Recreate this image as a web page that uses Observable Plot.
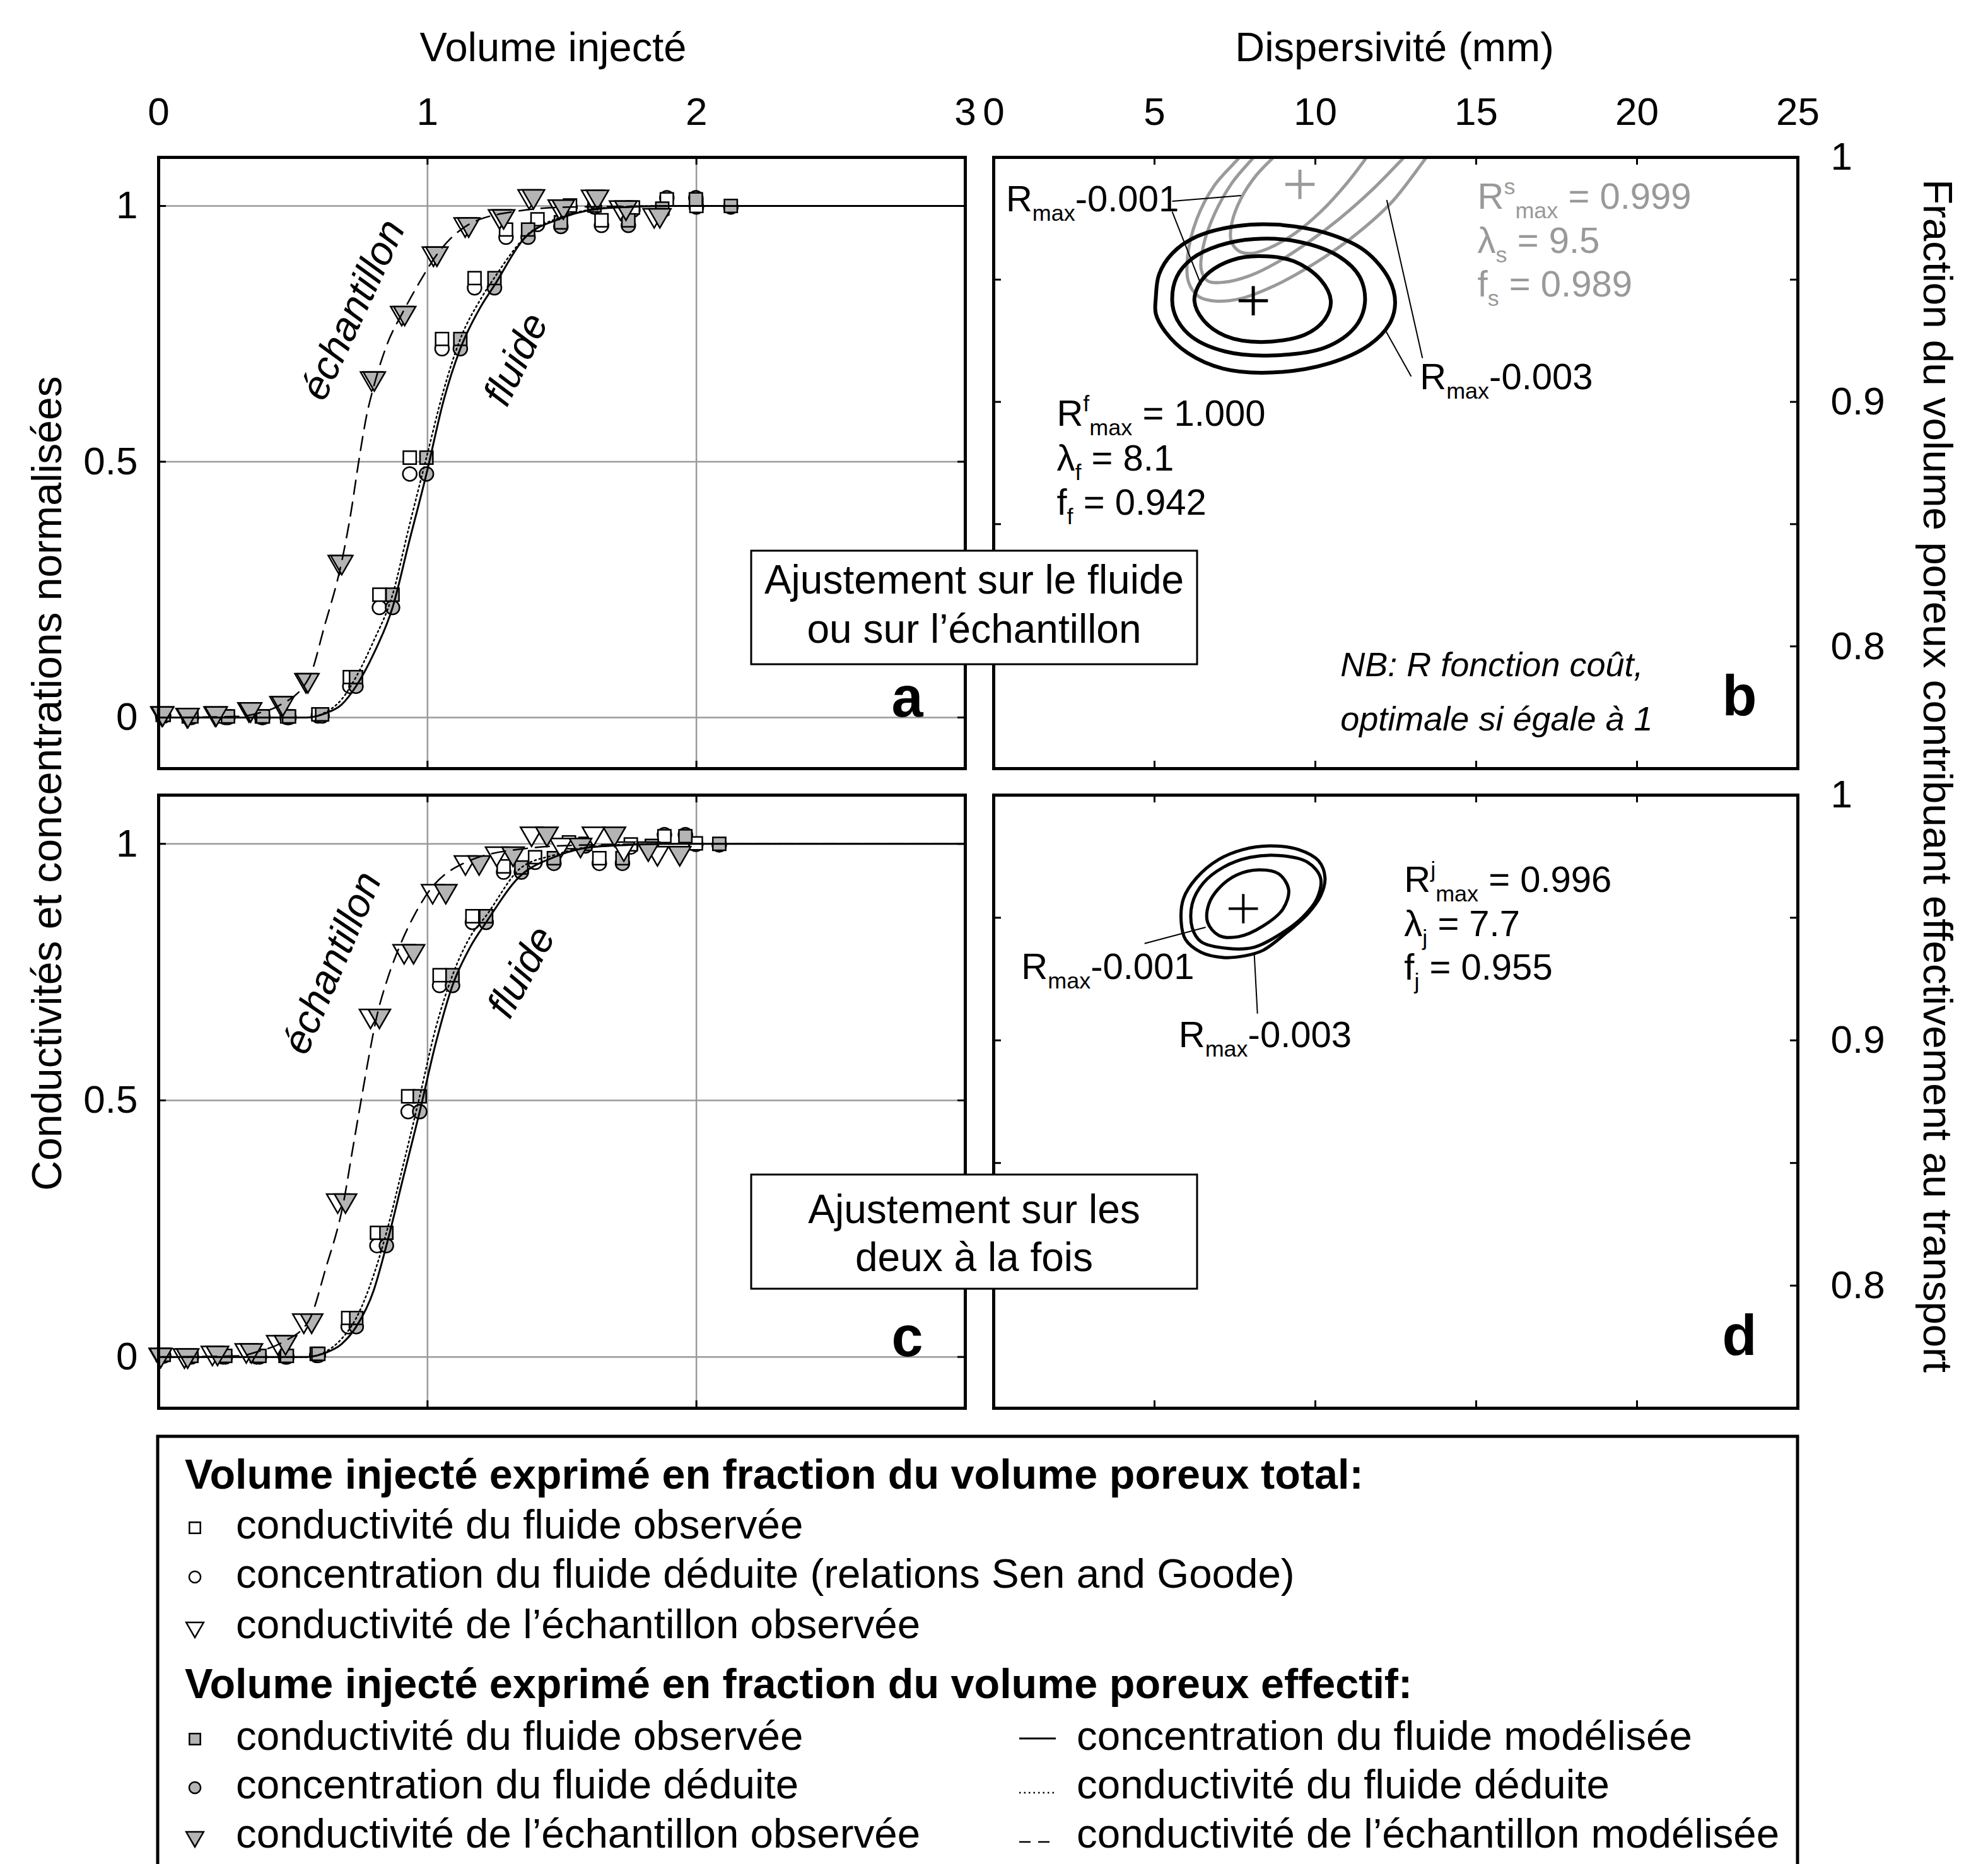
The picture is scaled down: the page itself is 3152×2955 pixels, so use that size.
<!DOCTYPE html>
<html lang="fr">
<head>
<meta charset="utf-8">
<title>Courbes de restitution et dispersivité</title>
<script src="https://cdn.jsdelivr.net/npm/d3@7"></script>
<script src="https://cdn.jsdelivr.net/npm/@observablehq/plot@0.6"></script>
<style>
  html, body { margin: 0; padding: 0; background: #fff; }
  #page { position: relative; width: 3152px; height: 2955px; overflow: hidden; background: #fff; }
</style>
</head>
<body>
<div id="page"></div>
<script>
// ===================== DATA =====================
// ---- Panel a (ajustement séparé) : volume injecté (fraction du volume poreux)
// total (symboles blancs)
const aSqTotX = [0.015,0.112,0.248,0.384,0.478,0.594,0.711,0.821,0.934,1.054,1.175,1.292,1.409,1.530,1.647,1.764,1.890,2.000];
const aSqTotY = [0.005,0.002,0.002,0.002,0.002,0.006,0.079,0.240,0.508,0.740,0.859,0.954,0.974,1.001,0.972,0.997,1.013,1.000];
const aCiTotY = [0.003,0.000,0.000,0.000,0.000,0.003,0.061,0.215,0.476,0.721,0.840,0.939,0.964,0.998,0.962,0.992,1.016,0.998];
const aTriTotX = [0.012,0.106,0.210,0.336,0.455,0.548,0.672,0.792,0.904,1.022,1.140,1.268,1.378,1.490,1.614,1.718,1.843];
// effectif (symboles gris)
const aSqEffX = [0.019,0.122,0.258,0.388,0.485,0.608,0.734,0.870,0.996,1.122,1.249,1.374,1.496,1.621,1.747,1.873,1.998,2.128];
const aSqEffY = [0.005,0.002,0.002,0.002,0.002,0.006,0.079,0.240,0.508,0.740,0.859,0.954,0.968,1.001,0.972,0.995,1.013,1.000];
const aCiEffY = [0.003,0.000,0.000,0.000,0.000,0.003,0.061,0.215,0.476,0.721,0.840,0.939,0.960,0.998,0.962,0.990,1.016,0.998];
const aTriEffX = [0.015,0.109,0.214,0.342,0.462,0.555,0.681,0.802,0.915,1.035,1.153,1.283,1.394,1.505,1.632,1.738,1.864];
const aTriY    = [0.008,0.005,0.008,0.016,0.028,0.073,0.304,0.663,0.791,0.907,0.964,0.980,1.019,0.999,1.018,0.997,0.982];
// courbes modélisées
const aSolidX = [0,0.55,0.62,0.68,0.734,0.80,0.870,0.93,0.996,1.06,1.122,1.20,1.249,1.357,1.487,1.617,1.747,1.9,3.0];
const aSolidY = [0,0,0.008,0.025,0.061,0.125,0.215,0.34,0.476,0.62,0.721,0.805,0.845,0.935,0.974,0.993,0.998,1.0,1.0];
const aDotX   = [0,0.55,0.62,0.68,0.734,0.80,0.870,0.93,0.996,1.06,1.122,1.20,1.249,1.374,1.496,1.62,1.75,1.9,3.0];
const aDotY   = [0,0,0.01,0.035,0.079,0.15,0.24,0.37,0.508,0.64,0.740,0.82,0.86,0.945,0.978,0.994,0.999,1.0,1.0];
const aDashX  = [0,0.30,0.366,0.443,0.559,0.617,0.681,0.715,0.744,0.773,0.802,0.850,0.909,0.967,1.035,1.161,1.336,1.530,2.0,3.0];
const aDashY  = [0,0.002,0.008,0.022,0.077,0.179,0.305,0.40,0.5,0.589,0.651,0.730,0.793,0.848,0.905,0.966,0.990,0.998,1.0,1.0];
const aLabelText = ["échantillon", "fluide"];
const aLabelX = [0.724, 1.330];
const aLabelY = [0.797, 0.700];
const aLabelRot = [-65, -64];

// ---- Panel c (ajustement conjoint)
const cSqTotX = [0.015,0.112,0.239,0.365,0.472,0.588,0.705,0.812,0.928,1.045,1.167,1.283,1.400,1.526,1.639,1.756,1.881,1.998];
const cSqTotY = [0.004,0.002,0.002,0.002,0.002,0.006,0.076,0.242,0.508,0.744,0.859,0.956,0.974,1.003,0.972,0.999,1.015,1.001];
const cCiTotY = [0.002,0.000,0.000,0.000,0.000,0.003,0.059,0.217,0.478,0.724,0.847,0.945,0.964,0.998,0.962,0.994,1.018,0.999];
const cTriTotX = [0.006,0.096,0.200,0.326,0.443,0.540,0.666,0.788,0.913,1.019,1.141,1.257,1.387,1.496,1.617,1.730,1.855];
const cSqEffX = [0.019,0.122,0.248,0.375,0.477,0.594,0.735,0.847,0.971,1.093,1.218,1.349,1.470,1.587,1.725,1.834,1.959,2.085];
const cSqEffY = [0.004,0.002,0.002,0.002,0.002,0.006,0.076,0.242,0.508,0.744,0.859,0.954,0.972,1.000,0.972,0.996,1.015,1.000];
const cCiEffY = [0.002,0.000,0.000,0.000,0.000,0.003,0.059,0.217,0.478,0.724,0.847,0.945,0.962,0.996,0.962,0.990,1.018,0.998];
const cTriEffX = [0.008,0.108,0.219,0.345,0.472,0.569,0.695,0.821,0.948,1.068,1.192,1.318,1.444,1.569,1.695,1.821,1.938];
const cTriY    = [0.004,0.003,0.008,0.013,0.029,0.071,0.305,0.665,0.791,0.908,0.964,0.981,1.020,0.998,1.020,0.991,0.982];
const cSolidX = [0,0.55,0.62,0.68,0.735,0.80,0.847,0.91,0.971,1.03,1.093,1.16,1.218,1.34,1.47,1.6,1.75,1.9,3.0];
const cSolidY = [0,0,0.008,0.025,0.059,0.13,0.217,0.35,0.478,0.61,0.724,0.80,0.847,0.935,0.974,0.993,0.998,1.0,1.0];
const cDotX   = [0,0.55,0.62,0.68,0.735,0.80,0.847,0.91,0.971,1.03,1.093,1.16,1.218,1.349,1.47,1.6,1.75,1.9,3.0];
const cDotY   = [0,0,0.01,0.035,0.076,0.16,0.242,0.375,0.508,0.64,0.744,0.82,0.86,0.954,0.978,0.994,0.999,1.0,1.0];
const cDashX  = [0,0.30,0.366,0.462,0.559,0.62,0.689,0.72,0.753,0.78,0.812,0.85,0.889,0.95,1.006,1.142,1.35,1.6,2.0,3.0];
const cDashY  = [0,0.002,0.01,0.029,0.071,0.17,0.305,0.40,0.5,0.58,0.665,0.735,0.791,0.86,0.908,0.964,0.99,0.998,1.0,1.0];
const cLabelText = ["échantillon", "fluide"];
const cLabelX = [0.646, 1.350];
const cLabelY = [0.768, 0.750];
const cLabelRot = [-67, -61];

// ---- Panel b : contours de R (dispersivité en mm, fraction f)
const bFluidInnerL = [6.24,6.38,6.72,7.41,8.24,9.34,10.16,10.48,10.30,9.68,8.31,7.20,6.52];
const bFluidInnerF = [0.9414,0.9479,0.9532,0.9580,0.9596,0.9575,0.9500,0.9414,0.9339,0.9275,0.9245,0.9270,0.9334];
const bFluidMidL = [5.55,5.69,6.17,7.00,8.10,9.48,10.72,11.38,11.54,11.24,10.30,8.65,7.20,6.17,5.69];
const bFluidMidF = [0.9414,0.9511,0.9586,0.9639,0.9666,0.9655,0.9596,0.9511,0.9404,0.9307,0.9222,0.9190,0.9206,0.9265,0.9340];
const bFluidOutL = [5.04,5.14,5.55,6.31,7.55,8.79,10.30,11.54,12.30,12.48,12.30,11.68,10.44,8.65,7.13,6.03,5.34,5.04];
const bFluidOutF = [0.9425,0.9521,0.9607,0.9676,0.9719,0.9725,0.9692,0.9618,0.9500,0.9404,0.9318,0.9233,0.9158,0.9120,0.9136,0.9200,0.9286,0.9361];
const bSampInnerL = [9.20,8.72,8.17,7.69,7.41,7.38,7.62,7.96,8.51,9.34,10.17,10.99,11.61,11.95];
const bSampInnerF = [1.0067,1.0003,0.9928,0.9832,0.9735,0.9660,0.9617,0.9607,0.9626,0.9687,0.9778,0.9896,1.0003,1.0067];
const bSampMidL = [8.51,8.10,7.41,6.86,6.52,6.45,6.65,7.13,7.96,8.79,9.75,10.72,11.82,12.78,13.26];
const bSampMidF = [1.0067,1.0003,0.9896,0.9767,0.9639,0.9543,0.9495,0.9489,0.9516,0.9569,0.9650,0.9746,0.9874,1.0003,1.0067];
const bSampOutL = [8.03,7.66,6.86,6.31,6.03,6.06,6.38,6.93,7.69,8.79,9.89,11.13,12.37,13.47,13.88];
const bSampOutF = [1.0067,1.0003,0.9885,0.9746,0.9596,0.9489,0.9430,0.9412,0.9423,0.9479,0.9559,0.9671,0.9816,1.0003,1.0072];
const bBestL = [8.07, 9.52];   // fluide, échantillon
const bBestF = [0.9414, 0.989];
const bLeadX1 = [5.55, 5.55, 12.98, 13.33];
const bLeadY1 = [0.9821, 0.9778, 0.9104, 0.9179];
const bLeadX2 = [7.69, 6.45, 12.16, 12.22];
const bLeadY2 = [0.9844, 0.9478, 0.9297, 0.9826];

// ---- Panel d : contours de R (ajustement conjoint)
const dInnerL = [6.65,6.69,7.00,7.55,8.24,8.86,9.17,8.99,8.37,7.62,7.00];
const dInnerF = [0.9482,0.9556,0.9620,0.9674,0.9695,0.9679,0.9615,0.9535,0.9466,0.9423,0.9428];
const dMidL = [6.17,6.17,6.52,7.14,7.96,8.86,9.75,10.16,10.05,9.61,8.92,8.10,7.28,6.45];
const dMidF = [0.9460,0.9556,0.9642,0.9706,0.9746,0.9754,0.9727,0.9663,0.9578,0.9503,0.9434,0.9380,0.9375,0.9402];
const dOutL = [5.83,5.90,6.31,7.00,7.75,8.58,9.48,10.10,10.30,10.16,9.75,9.06,8.37,7.82,7.14,6.45,5.96];
const dOutF = [0.9482,0.9578,0.9663,0.9738,0.9778,0.9793,0.9778,0.9732,0.9663,0.9588,0.9514,0.9434,0.9367,0.9345,0.9338,0.9359,0.9412];
const dBestL = [7.76];
const dBestF = [0.9537];
const dLeadX1 = [4.69, 8.10];
const dLeadY1 = [0.9395, 0.9354];
const dLeadX2 = [6.59, 8.20];
const dLeadY2 = [0.9461, 0.9109];

// ---- Ticks
const xTicksCurve = [0, 1, 2, 3];
const yTicksCurve = [0, 0.5, 1];
const xTicksDisp = [0, 5, 10, 15, 20, 25];
const xTickMarksDisp = [5, 10, 15, 20];
const yTicksFrac = [0.8, 0.9, 1];
const yTickMarksFrac = [0.8, 0.85, 0.9, 0.95];

// ===================== STYLE / HELPERS =====================
const FONT = '"Liberation Sans", Arial, Helvetica, sans-serif';
const GFILL = "#b4b4b4";
const GLINE = "#9a9a9a";
const fmt = d => String(d);
const page = document.getElementById("page");

const pts = (X, Y) => X.map((x, i) => ({x, y: Y[i]}));

const triDown = {
  draw(ctx, size) {
    const s = Math.sqrt(size * 4 / Math.sqrt(3));
    const h = s * Math.sqrt(3) / 2;
    ctx.moveTo(-s / 2, -h / 3);
    ctx.lineTo(s / 2, -h / 3);
    ctx.lineTo(0, 2 * h / 3);
    ctx.closePath();
  }
};

function place(el, left, top) {
  el.style.position = "absolute";
  el.style.left = left + "px";
  el.style.top = top + "px";
  el.style.maxWidth = "none";
  el.style.background = "transparent";
  el.style.overflow = "visible";
  page.appendChild(el);
  return el;
}

function rich(sel, x, y, parts, {size = 58, fill = "#000", style = "normal", anchor = "start"} = {}) {
  const t = sel.append("text").attr("x", x).attr("y", y)
    .attr("font-family", FONT).attr("font-size", size).attr("fill", fill)
    .attr("font-style", style).attr("text-anchor", anchor);
  let cur = 0;
  for (const [txt, kind] of parts) {
    const target = kind === "sub" ? 0.26 * size : kind === "sup" ? -0.40 * size : 0;
    t.append("tspan").attr("dy", target - cur).attr("font-size", kind ? size * 0.62 : size).text(txt);
    cur = target;
  }
  return t;
}

function frameTicks(xs, ys, fw, fh, len) {
  return [
    Plot.tickX(xs, {x: d => d, insetBottom: fh - len, stroke: "black", strokeWidth: 3}),
    Plot.tickX(xs, {x: d => d, insetTop: fh - len, stroke: "black", strokeWidth: 3}),
    Plot.tickY(ys, {y: d => d, insetRight: fw - len, stroke: "black", strokeWidth: 3}),
    Plot.tickY(ys, {y: d => d, insetLeft: fw - len, stroke: "black", strokeWidth: 3})
  ];
}

// ===================== CURVE PANELS (a, c) =====================
function curvePanel(o) {
  const W = 1545, mL = 251, mR = 15;
  const fw = W - mL - mR, fh = o.height - o.mTop - o.mBottom;
  const labels = o.labelText.map((t, i) => ({t, x: o.labelX[i], y: o.labelY[i], r: o.labelRot[i]}));
  const marks = [
    Plot.gridX([1, 2], {stroke: GLINE, strokeOpacity: 1, strokeWidth: 2.5}),
    Plot.gridY(yTicksCurve, {stroke: GLINE, strokeOpacity: 1, strokeWidth: 2.5}),
    ...frameTicks([1, 2], yTicksCurve, fw, fh, 12),
    Plot.axisY({anchor: "left", ticks: yTicksCurve, tickSize: 0, tickPadding: 33, label: null, tickFormat: fmt}),
    Plot.dot(pts(o.sqTotX, o.ciTotY), {x: "x", y: "y", symbol: "circle", r: 11, fill: "white", stroke: "black", strokeWidth: 2.5}),
    Plot.dot(pts(o.sqEffX, o.ciEffY), {x: "x", y: "y", symbol: "circle", r: 11, fill: GFILL, stroke: "black", strokeWidth: 2.5}),
    Plot.dot(pts(o.sqTotX, o.sqTotY), {x: "x", y: "y", symbol: "square", r: 11.5, fill: "white", stroke: "black", strokeWidth: 2.5}),
    Plot.dot(pts(o.sqEffX, o.sqEffY), {x: "x", y: "y", symbol: "square", r: 11.5, fill: GFILL, stroke: "black", strokeWidth: 2.5}),
    Plot.dot(pts(o.triTotX, o.triY), {x: "x", y: "y", symbol: triDown, r: 13, fill: "white", stroke: "black", strokeWidth: 2.5}),
    Plot.dot(pts(o.triEffX, o.triY), {x: "x", y: "y", symbol: triDown, r: 13, fill: GFILL, stroke: "black", strokeWidth: 2.5}),
    Plot.line(pts(o.dashX, o.dashY), {x: "x", y: "y", curve: "monotone-x", stroke: "black", strokeWidth: 2.5, strokeDasharray: "22,13"}),
    Plot.line(pts(o.dotX, o.dotY), {x: "x", y: "y", curve: "monotone-x", stroke: "black", strokeWidth: 2.5, strokeDasharray: "2.5,5"}),
    Plot.line(pts(o.solidX, o.solidY), {x: "x", y: "y", curve: "monotone-x", stroke: "black", strokeWidth: 3}),
    Plot.text(labels, {x: "x", y: "y", text: "t", rotate: "r", fontStyle: "italic", fontSize: 64, fill: "black"}),
    Plot.text([o.letter], {frameAnchor: "bottom-right", dx: -67, dy: -83, textAnchor: "end", lineAnchor: "bottom", fontWeight: "bold", fontSize: 90, fill: "black"}),
    Plot.frame({stroke: "black", strokeWidth: 5})
  ];
  if (o.topAxis) marks.push(Plot.axisX({anchor: "top", ticks: xTicksCurve, tickSize: 0, tickPadding: 52, label: null, tickFormat: fmt}));
  return Plot.plot({
    width: W, height: o.height,
    marginLeft: mL, marginRight: mR, marginTop: o.mTop, marginBottom: o.mBottom,
    x: {domain: [0, 3], axis: o.topAxis ? undefined : null},
    y: {domain: [-0.1, 1.095]},
    style: {fontFamily: FONT, fontSize: "62px", color: "black", background: "transparent", overflow: "visible"},
    marks
  });
}

const plotA = curvePanel({
  height: 1235, mTop: 249, mBottom: 17, topAxis: true, letter: "a",
  sqTotX: aSqTotX, sqTotY: aSqTotY, ciTotY: aCiTotY, triTotX: aTriTotX,
  sqEffX: aSqEffX, sqEffY: aSqEffY, ciEffY: aCiEffY, triEffX: aTriEffX, triY: aTriY,
  solidX: aSolidX, solidY: aSolidY, dotX: aDotX, dotY: aDotY, dashX: aDashX, dashY: aDashY,
  labelText: aLabelText, labelX: aLabelX, labelY: aLabelY, labelRot: aLabelRot
});
place(plotA, 0, 0);

const plotC = curvePanel({
  height: 1002, mTop: 20, mBottom: 10, topAxis: false, letter: "c",
  sqTotX: cSqTotX, sqTotY: cSqTotY, ciTotY: cCiTotY, triTotX: cTriTotX,
  sqEffX: cSqEffX, sqEffY: cSqEffY, ciEffY: cCiEffY, triEffX: cTriEffX, triY: cTriY,
  solidX: cSolidX, solidY: cSolidY, dotX: cDotX, dotY: cDotY, dashX: cDashX, dashY: cDashY,
  labelText: cLabelText, labelX: cLabelX, labelY: cLabelY, labelRot: cLabelRot
});
place(plotC, 0, 1240);

// ===================== CONTOUR PANELS (b, d) =====================
function contourPanel(o) {
  const W = 1607, mL = 30, mR = 302;
  const fw = W - mL - mR, fh = o.height - o.mTop - o.mBottom;
  const marks = [
    ...frameTicks(xTickMarksDisp, yTickMarksFrac, fw, fh, 12),
    Plot.axisY({anchor: "right", ticks: yTicksFrac, tickSize: 0, tickPadding: 52, label: null, tickFormat: fmt}),
    ...o.marks,
    Plot.text([o.letter], {frameAnchor: "bottom-right", dx: -65, dy: -85, textAnchor: "end", lineAnchor: "bottom", fontWeight: "bold", fontSize: 90, fill: "black"}),
    Plot.frame({stroke: "black", strokeWidth: 5})
  ];
  if (o.topAxis) marks.push(Plot.axisX({anchor: "top", ticks: xTicksDisp, tickSize: 0, tickPadding: 52, label: null, tickFormat: fmt}));
  return Plot.plot({
    width: W, height: o.height,
    marginLeft: mL, marginRight: mR, marginTop: o.mTop, marginBottom: o.mBottom,
    x: {domain: [0, 25], axis: o.topAxis ? undefined : null},
    y: {domain: [0.75, 1.0]},
    style: {fontFamily: FONT, fontSize: "62px", color: "black", background: "transparent", overflow: "visible"},
    marks
  });
}

const contour = (L, F, stroke, sw, closed) =>
  Plot.line(pts(L, F), {x: "x", y: "y", curve: closed ? "catmull-rom-closed" : "catmull-rom", stroke, strokeWidth: sw, clip: true});
const leaders = (x1, y1, x2, y2) =>
  Plot.link(x1.map((v, i) => ({x1: v, y1: y1[i], x2: x2[i], y2: y2[i]})), {x1: "x1", y1: "y1", x2: "x2", y2: "y2", stroke: "black", strokeWidth: 2});

const plotB = contourPanel({
  height: 1235, mTop: 249, mBottom: 17, topAxis: true, letter: "b",
  marks: [
    contour(bSampInnerL, bSampInnerF, GLINE, 5, false),
    contour(bSampMidL, bSampMidF, GLINE, 5, false),
    contour(bSampOutL, bSampOutF, GLINE, 5, false),
    contour(bFluidInnerL, bFluidInnerF, "black", 6, true),
    contour(bFluidMidL, bFluidMidF, "black", 6, true),
    contour(bFluidOutL, bFluidOutF, "black", 6, true),
    Plot.dot(pts(bBestL, bBestF), {x: "x", y: "y", symbol: "plus", r: 15, fill: "none",
      stroke: (d, i) => i === 0 ? "black" : GLINE, strokeWidth: 5}),
    leaders(bLeadX1, bLeadY1, bLeadX2, bLeadY2)
  ]
});
place(plotB, 1545, 0);

const plotD = contourPanel({
  height: 1002, mTop: 20, mBottom: 10, topAxis: false, letter: "d",
  marks: [
    contour(dInnerL, dInnerF, "black", 5, true),
    contour(dMidL, dMidF, "black", 5, true),
    contour(dOutL, dOutF, "black", 5, true),
    Plot.dot(pts(dBestL, dBestF), {x: "x", y: "y", symbol: "plus", r: 15, fill: "none", stroke: "black", strokeWidth: 4}),
    leaders(dLeadX1, dLeadY1, dLeadX2, dLeadY2)
  ]
});
place(plotD, 1545, 1240);

// annotations b
{
  const s = d3.select(plotB), x = plotB.scale("x"), y = plotB.scale("y");
  const X = v => x.apply(v), Y = v => y.apply(v);
  rich(s, X(0.39), Y(0.9778), [["R"], ["max", "sub"], ["-0.001"]]);
  rich(s, X(13.26), Y(0.905), [["R"], ["max", "sub"], ["-0.003"]]);
  rich(s, X(15.05), Y(0.9789), [["R"], ["s", "sup"], ["max", "sub"], [" = 0.999"]], {fill: "#999"});
  rich(s, X(15.05), Y(0.9607), [["λ"], ["s", "sub"], [" = 9.5"]], {fill: "#999"});
  rich(s, X(15.05), Y(0.9431), [["f"], ["s", "sub"], [" = 0.989"]], {fill: "#999"});
  rich(s, X(1.97), Y(0.890), [["R"], ["f", "sup"], ["max", "sub"], [" = 1.000"]]);
  rich(s, X(1.97), Y(0.8719), [["λ"], ["f", "sub"], [" = 8.1"]]);
  rich(s, X(1.97), Y(0.8537), [["f"], ["f", "sub"], [" = 0.942"]]);
  rich(s, X(10.79), Y(0.7876), [["NB: R fonction coût,"]], {size: 54, style: "italic"});
  rich(s, X(10.79), Y(0.7656), [["optimale si égale à 1"]], {size: 54, style: "italic"});
}
// annotations d
{
  const s = d3.select(plotD), x = plotD.scale("x"), y = plotD.scale("y");
  const X = v => x.apply(v), Y = v => y.apply(v);
  rich(s, X(0.87), Y(0.9249), [["R"], ["max", "sub"], ["-0.001"]]);
  rich(s, X(5.76), Y(0.8971), [["R"], ["max", "sub"], ["-0.003"]]);
  rich(s, X(12.77), Y(0.9604), [["R"], ["j", "sup"], ["max", "sub"], [" = 0.996"]]);
  rich(s, X(12.77), Y(0.9424), [["λ"], ["j", "sub"], [" = 7.7"]]);
  rich(s, X(12.77), Y(0.9247), [["f"], ["j", "sub"], [" = 0.955"]]);
}

// ===================== OVERLAY: titles, boxes, legend =====================
const ov = d3.create("svg").attr("width", 3152).attr("height", 2955).attr("viewBox", "0 0 3152 2955")
  .attr("font-family", FONT)
  .style("position", "absolute").style("left", "0px").style("top", "0px").style("overflow", "hidden");

ov.append("text").attr("x", 877).attr("y", 97).attr("text-anchor", "middle").attr("font-size", 65).text("Volume injecté");
ov.append("text").attr("x", 2211).attr("y", 97).attr("text-anchor", "middle").attr("font-size", 65).text("Dispersivité (mm)");
ov.append("text").attr("transform", "translate(97,1242) rotate(-90)").attr("text-anchor", "middle").attr("font-size", 66)
  .text("Conductivités et concentrations normalisées");
ov.append("text").attr("transform", "translate(3050,1230) rotate(90)").attr("text-anchor", "middle").attr("font-size", 65.5)
  .text("Fraction du volume poreux contribuant effectivement au transport");

function box(x, y, w, h, lines, baselines) {
  ov.append("rect").attr("x", x).attr("y", y).attr("width", w).attr("height", h)
    .attr("fill", "white").attr("stroke", "black").attr("stroke-width", 3);
  lines.forEach((t, i) => ov.append("text").attr("x", x + w / 2).attr("y", baselines[i])
    .attr("text-anchor", "middle").attr("font-size", 64).text(t));
}
box(1191, 873, 707, 180, ["Ajustement sur le fluide", "ou sur l’échantillon"], [941, 1019]);
box(1191, 1862, 707, 181, ["Ajustement sur les", "deux à la fois"], [1939, 2015]);

// legend
const legendHead = ["Volume injecté exprimé en fraction du volume poreux total:",
                    "Volume injecté exprimé en fraction du volume poreux effectif:"];
const legendSym = ["conductivité du fluide observée",
                   "concentration du fluide déduite (relations Sen and Goode)",
                   "conductivité de l’échantillon observée",
                   "conductivité du fluide observée",
                   "concentration du fluide déduite",
                   "conductivité de l’échantillon observée"];
const legendLine = ["concentration du fluide modélisée",
                    "conductivité du fluide déduite",
                    "conductivité de l’échantillon modélisée"];
ov.append("rect").attr("x", 250).attr("y", 2277).attr("width", 2600).attr("height", 800)
  .attr("fill", "white").attr("stroke", "black").attr("stroke-width", 5);
ov.append("text").attr("x", 293).attr("y", 2360).attr("font-size", 66.5).attr("font-weight", "bold").text(legendHead[0]);
ov.append("text").attr("x", 293).attr("y", 2692).attr("font-size", 66.5).attr("font-weight", "bold").text(legendHead[1]);
const symRowY = [2439, 2517, 2597, 2774, 2851, 2929];
const symTypes = [d3.symbolSquare, d3.symbolCircle, triDown, d3.symbolSquare, d3.symbolCircle, triDown];
const symSizes = [300, 260, 330, 300, 260, 330];
legendSym.forEach((t, i) => {
  ov.append("path").attr("d", d3.symbol(symTypes[i], symSizes[i])())
    .attr("transform", `translate(309,${symRowY[i] - 17})`)
    .attr("fill", i < 3 ? "white" : GFILL).attr("stroke", "black").attr("stroke-width", 2.5);
  ov.append("text").attr("x", 374).attr("y", symRowY[i]).attr("font-size", 65.5).text(t);
});
const lineDash = [null, "2.5,5", "18,12"];
const lineOff = [18, 9, 9];
legendLine.forEach((t, i) => {
  const yy = symRowY[3 + i];
  const ln = ov.append("line").attr("x1", 1616).attr("x2", 1674).attr("y1", yy - lineOff[i]).attr("y2", yy - lineOff[i])
    .attr("stroke", "black").attr("stroke-width", i === 0 ? 3 : 2.5);
  if (lineDash[i]) ln.attr("stroke-dasharray", lineDash[i]);
  ov.append("text").attr("x", 1707).attr("y", yy).attr("font-size", 65.5).text(t);
});

page.appendChild(ov.node());
</script>
</body>
</html>
